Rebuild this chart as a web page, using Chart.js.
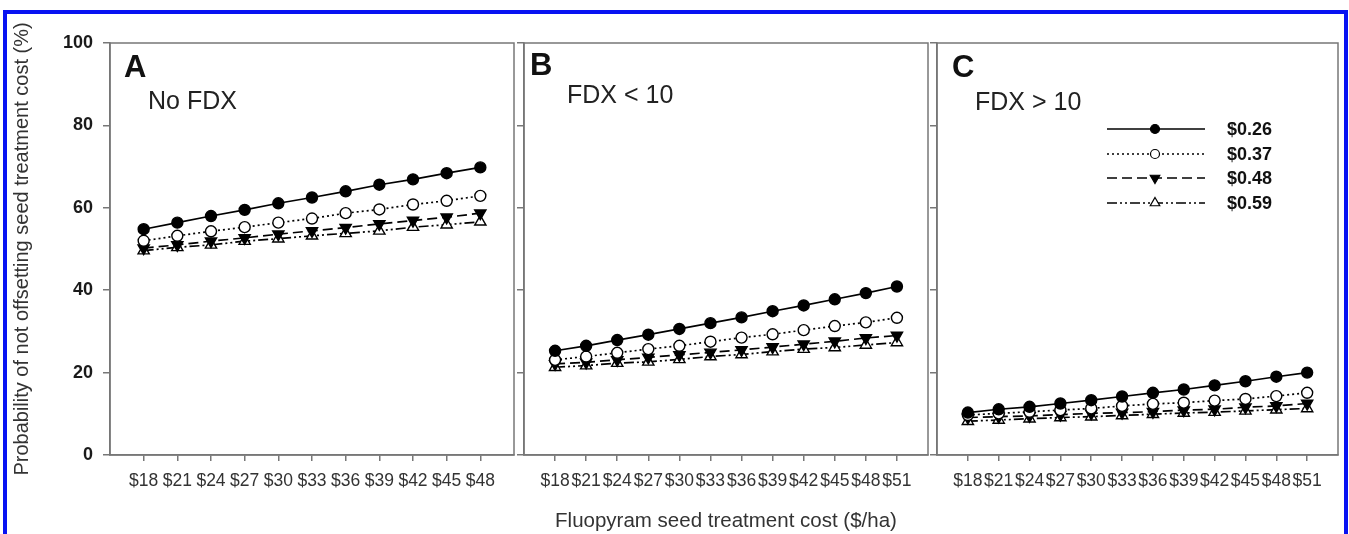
<!DOCTYPE html>
<html>
<head>
<meta charset="utf-8">
<script src="https://cdn.jsdelivr.net/npm/chart.js@4.4.1/dist/chart.umd.min.js"></script>
<style>
  body { margin: 0; background: #fff; }
  #frame { position: absolute; left: 3px; top: 10px; width: 1345px; height: 560px; border: 4px solid #0812f2; box-sizing: border-box; }
  canvas { position: absolute; left: 0; top: 0; }
</style>
</head>
<body>
<div id="frame"></div>
<canvas id="chartA" width="1349" height="534"></canvas>
<canvas id="chartB" width="1349" height="534"></canvas>
<canvas id="chartC" width="1349" height="534"></canvas>
<script>
// data
const seriesNames = ['$0.26', '$0.37', '$0.48', '$0.59'];
const costsA = [18, 21, 24, 27, 30, 33, 36, 39, 42, 45, 48];
const costsBC = [18, 21, 24, 27, 30, 33, 36, 39, 42, 45, 48, 51];
const yTicks = [0, 20, 40, 60, 80, 100];

const a26 = [54.8, 56.4, 58.0, 59.5, 61.1, 62.5, 64.0, 65.6, 66.9, 68.4, 69.8];
const a37 = [52.0, 53.2, 54.3, 55.3, 56.4, 57.4, 58.7, 59.6, 60.8, 61.7, 62.9];
const a48 = [50.2, 51.0, 51.9, 52.7, 53.6, 54.4, 55.2, 56.1, 56.9, 57.7, 58.7];
const a59 = [49.6, 50.4, 51.0, 51.9, 52.5, 53.2, 53.8, 54.4, 55.3, 55.9, 56.6];

const b26 = [25.3, 26.5, 27.9, 29.2, 30.6, 32.0, 33.4, 34.9, 36.3, 37.8, 39.3, 40.9];
const b37 = [23.1, 23.9, 24.8, 25.7, 26.5, 27.5, 28.5, 29.3, 30.3, 31.3, 32.2, 33.3];
const b48 = [22.1, 22.5, 23.1, 23.7, 24.3, 24.9, 25.5, 26.2, 26.9, 27.6, 28.4, 29.0];
const b59 = [21.3, 21.7, 22.3, 22.6, 23.2, 23.9, 24.4, 25.1, 25.7, 26.1, 26.7, 27.3];

const c26 = [10.3, 11.1, 11.7, 12.5, 13.3, 14.2, 15.1, 15.9, 16.9, 17.9, 19.0, 20.0];
const c37 = [9.7, 10.1, 10.5, 10.9, 11.3, 11.9, 12.4, 12.7, 13.2, 13.6, 14.3, 15.1];
const c48 = [9.1, 9.3, 9.5, 9.8, 10.1, 10.3, 10.5, 10.9, 11.1, 11.6, 11.9, 12.5];
const c59 = [8.2, 8.5, 8.8, 9.1, 9.3, 9.6, 9.9, 10.2, 10.4, 10.7, 11.0, 11.3];

const FONT = "'Liberation Sans', Arial, sans-serif";
const AXIS = '#777';

// line / marker look of each series
const looks = [
    { dash: [], style: 'circle', fill: '#000', rot: 0, r: 5.5 },
    { dash: [2, 3], style: 'circle', fill: '#fff', rot: 0, r: 5.5 },
    { dash: [10, 5], style: 'triangle', fill: '#000', rot: 180, r: 6.5 },
    { dash: [10, 3, 2, 3, 2, 3], style: 'triangle', fill: '#fff', rot: 0, r: 6.5 }
];

function buildSets(costs, rows) {
    return rows.map((vals, i) => ({
        label: seriesNames[i],
        data: costs.map((c, j) => ({ x: c, y: vals[j] })),
        borderColor: '#000',
        borderWidth: 1.7,
        borderDash: looks[i].dash,
        pointStyle: looks[i].style,
        pointRotation: looks[i].rot,
        pointRadius: looks[i].r,
        pointBackgroundColor: looks[i].fill,
        pointBorderColor: '#000',
        pointBorderWidth: 1.4,
        tension: 0
    }));
}

// box round the plot area
const boxPlugin = {
    id: 'box',
    beforeDatasetsDraw(chart) {
        const { ctx, chartArea: a } = chart;
        ctx.save();
        ctx.strokeStyle = AXIS;
        ctx.lineWidth = 1.5;
        ctx.strokeRect(a.left, a.top, a.right - a.left, a.bottom - a.top);
        ctx.restore();
    }
};

// panel letter and subtitle
const notePlugin = {
    id: 'note',
    afterDraw(chart, args, opts) {
        const ctx = chart.ctx;
        ctx.save();
        ctx.fillStyle = '#111';
        ctx.textBaseline = 'alphabetic';
        ctx.textAlign = 'left';
        ctx.font = 'bold 31px ' + FONT;
        ctx.fillText(opts.letter, opts.lx, opts.ly);
        ctx.fillStyle = '#222';
        ctx.font = '25px ' + FONT;
        ctx.fillText(opts.sub, opts.sx, opts.sy);
        ctx.restore();
    }
};

function marker(ctx, look, x, y, r) {
    ctx.save();
    ctx.setLineDash([]);
    ctx.fillStyle = look.fill;
    ctx.strokeStyle = '#000';
    ctx.lineWidth = 1.2;
    ctx.beginPath();
    if (look.style === 'circle') {
        ctx.arc(x, y, r, 0, Math.PI * 2);
    } else {
        const s = look.rot ? -1 : 1;
        ctx.moveTo(x, y - s * r);
        ctx.lineTo(x + r * 0.866, y + s * r * 0.5);
        ctx.lineTo(x - r * 0.866, y + s * r * 0.5);
        ctx.closePath();
    }
    ctx.fill();
    ctx.stroke();
    ctx.restore();
}

const keyPlugin = {
    id: 'key',
    afterDraw(chart) {
        const ctx = chart.ctx;
        const rowsY = [129, 154, 178, 203];
        chart.data.datasets.forEach((ds, i) => {
            const y = rowsY[i];
            ctx.save();
            ctx.strokeStyle = '#000';
            ctx.lineWidth = 1.3;
            ctx.setLineDash(looks[i].dash);
            ctx.beginPath();
            ctx.moveTo(1107, y);
            ctx.lineTo(1205, y);
            ctx.stroke();
            ctx.restore();
            marker(ctx, looks[i], 1155, y, looks[i].style === 'circle' ? 4.5 : 5.5);
            ctx.save();
            ctx.fillStyle = '#111';
            ctx.font = 'bold 18px ' + FONT;
            ctx.textBaseline = 'middle';
            ctx.fillText(ds.label, 1227, y + 1);
            ctx.restore();
        });
    }
};

function makePanel(id, p) {
    return new Chart(document.getElementById(id), {
        type: 'line',
        data: { datasets: buildSets(p.costs, p.rows) },
        options: {
            responsive: false,
            animation: false,
            layout: { padding: { left: p.padLeft, right: 1349 - p.right, top: 43, bottom: 0 } },
            plugins: {
                legend: { display: false },
                tooltip: { enabled: false },
                note: p.note
            },
            scales: {
                x: {
                    type: 'linear',
                    min: 15,
                    max: p.xmax,
                    afterBuildTicks: s => { s.ticks = p.costs.map(v => ({ value: v })); },
                    afterFit: s => { s.height = 79; },
                    grid: { drawOnChartArea: false, color: AXIS, lineWidth: 1.5, tickLength: 6 },
                    border: { color: AXIS, width: 1.5 },
                    ticks: {
                        autoSkip: false, maxRotation: 0, minRotation: 0, padding: 10,
                        color: '#333', font: { family: FONT, size: 17.5 },
                        callback: v => '$' + v
                    },
                    title: {
                        display: p.xTitle,
                        text: 'Fluopyram seed treatment cost ($/ha)',
                        color: '#333',
                        font: { family: FONT, size: 20.5 },
                        padding: { top: 0, bottom: 0 }
                    }
                },
                y: {
                    min: 0,
                    max: 100,
                    afterBuildTicks: s => { s.ticks = yTicks.map(v => ({ value: v })); },
                    afterFit: s => { s.width = p.yw; },
                    grid: { drawOnChartArea: false, color: AXIS, lineWidth: 1.5, tickLength: 7 },
                    border: { color: AXIS, width: 1.5 },
                    ticks: {
                        display: p.yLabels, padding: 10,
                        color: '#1a1a1a', font: { family: FONT, size: 18, weight: 'bold' }
                    },
                    title: {
                        display: p.yLabels,
                        text: 'Probability of not offsetting seed treatment cost (%)',
                        color: '#333',
                        font: { family: FONT, size: 20 },
                        padding: { top: 10, bottom: 0 }
                    }
                }
            }
        },
        plugins: p.extra ? [boxPlugin, notePlugin, p.extra] : [boxPlugin, notePlugin]
    });
}

makePanel('chartA', {
    costs: costsA, rows: [a26, a37, a48, a59], xmax: 51,
    padLeft: 0, yw: 110, right: 514, yLabels: true, xTitle: false,
    note: { letter: 'A', lx: 124, ly: 77, sub: 'No FDX', sx: 148, sy: 109 }
});

makePanel('chartB', {
    costs: costsBC, rows: [b26, b37, b48, b59], xmax: 54,
    padLeft: 514, yw: 10, right: 928, yLabels: false, xTitle: true,
    note: { letter: 'B', lx: 530, ly: 75, sub: 'FDX < 10', sx: 567, sy: 103 }
});

makePanel('chartC', {
    costs: costsBC, rows: [c26, c37, c48, c59], xmax: 54,
    padLeft: 928, yw: 9, right: 1338, yLabels: false, xTitle: false,
    note: { letter: 'C', lx: 952, ly: 77, sub: 'FDX > 10', sx: 975, sy: 110 },
    extra: keyPlugin
});
</script>
</body>
</html>
